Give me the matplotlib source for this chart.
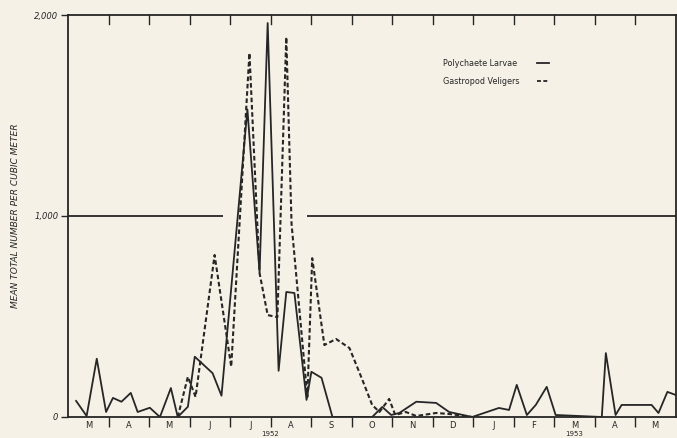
import numpy as np
import matplotlib
matplotlib.use("Agg")
import matplotlib.pyplot as plt

# x positions are in months counted from 1 March 1952
poly_x = [0.20, 0.46, 0.71, 0.94, 1.11, 1.32, 1.55, 1.72, 2.02, 2.27, 2.54, 2.71,
          2.96, 3.13, 3.57, 3.79, 4.43, 4.73, 4.93, 5.20, 5.39, 5.59, 5.89, 6.01,
          6.26, 6.53, 7.51, 7.76, 7.98, 8.18, 8.60, 9.09, 9.41, 9.98, 10.64, 10.89,
          11.08, 11.33, 11.55, 11.82, 12.04, 13.18, 13.28, 13.52, 13.67, 14.41,
          14.58, 14.80, 15.0]
poly_y = [80, 5, 290, 25, 95, 76, 120, 25, 46, 0, 144, 0,
          51, 300, 218, 106, 1530, 720, 1960, 230, 622, 617, 85, 225,
          195, 0, 0, 50, 10, 20, 76, 70, 25, 0, 45, 35,
          160, 10, 60, 150, 10, 0, 318, 10, 60, 60,
          20, 125, 110]

gast_x = [2.71, 2.96, 3.15, 3.62, 4.03, 4.48, 4.73, 4.93, 5.17, 5.39, 5.52,
          5.91, 6.03, 6.33, 6.62, 6.95, 7.27, 7.51, 7.69, 7.93, 8.08, 8.34,
          8.60, 9.09, 9.41, 9.98]
gast_y = [0, 200, 100, 806, 250, 1811, 716, 507, 497, 1890, 960,
          100, 790, 358, 388, 343, 184, 60, 25, 90, 10, 25,
          5, 20, 15, 0]

months = ["M", "A", "M", "J", "J", "A", "S", "O", "N", "D", "J", "F", "M", "A", "M"]
years = ["1952", "1953"]
year_pos = [5.0, 12.5]

ref_level = 1000
ref_spans = [(0, 3.82), (5.91, 15)]

ink = "#262626"
paper = "#f6f1e7"

fig = plt.figure(figsize=(6.77, 4.38), dpi=100, facecolor=paper)
ax = fig.add_axes([68 / 677, 1 - 417 / 438, 607.5 / 677, 402 / 438])
ax.set_facecolor(paper)

for a, b in ref_spans:
    ax.hlines(ref_level, a, b, color=ink, lw=1.3)

ax.plot(poly_x, poly_y, color=ink, lw=1.3, label="Polychaete Larvae")
ax.plot(gast_x, gast_y, color=ink, lw=1.5, ls=(0, (2.2, 1.3)), label="Gastropod Veligers")

ax.set_xlim(0, 15)
ax.set_ylim(0, 2000)

for s in ax.spines.values():
    s.set_color(ink)
    s.set_linewidth(1.3)

ax.set_yticks([0, 1000, 2000])
ax.set_yticklabels(["0", "1,000", "2,000"], fontsize=6, style="italic", color=ink)
ax.tick_params(axis="y", direction="out", length=5, width=1, color=ink, pad=2)

bounds = np.arange(1, 15)
ax.set_xticks(bounds)
ax.set_xticklabels([])
ax.tick_params(axis="x", direction="out", length=7, width=1, color=ink, top=False)
for b in bounds:
    ax.plot([b, b], [2000, 1955], color=ink, lw=1, clip_on=False)

for i, m in enumerate(months):
    ax.text(i + 0.5, -20, m, ha="center", va="top", fontsize=6, color=ink)
for y, p in zip(years, year_pos):
    ax.text(p, -72, y, ha="center", va="top", fontsize=5, color=ink)

ax.set_ylabel("MEAN TOTAL NUMBER PER CUBIC METER", fontsize=6.5, style="italic",
              color=ink, labelpad=10)

ax.text(0.617, 0.88, "Polychaete Larvae", transform=ax.transAxes, fontsize=5.8,
        color=ink, va="center")
ax.plot([0.772, 0.792], [0.88, 0.88], transform=ax.transAxes, color=ink, lw=1.3)
ax.text(0.617, 0.835, "Gastropod Veligers", transform=ax.transAxes, fontsize=5.8,
        color=ink, va="center")
ax.plot([0.772, 0.792], [0.835, 0.835], transform=ax.transAxes, color=ink, lw=1.3,
        ls=(0, (2.2, 1.3)))

fig.savefig("out.png", dpi=100, facecolor=paper)
